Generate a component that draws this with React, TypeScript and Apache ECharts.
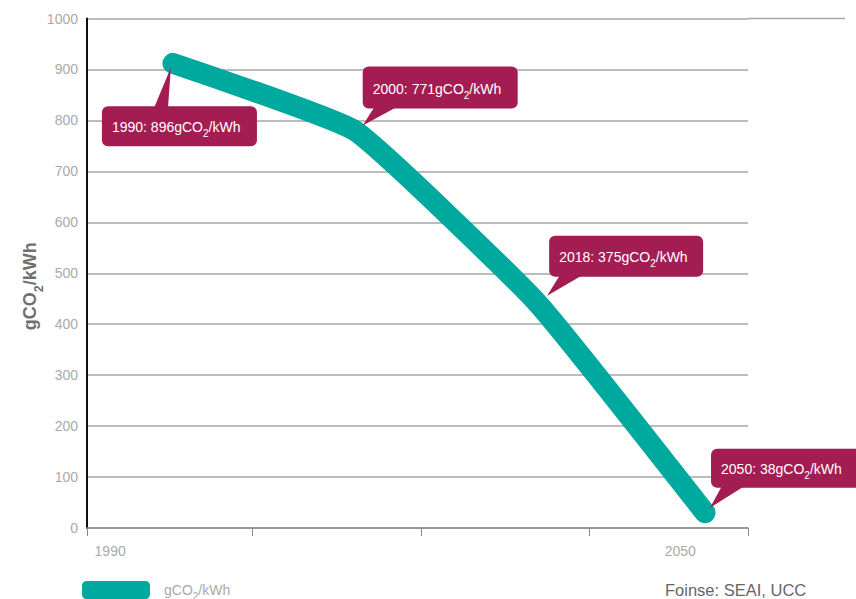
import React, { useEffect, useRef } from "react";
import * as echarts from "echarts";

// ---- data ----
const years = ["1990", "2000", "2018", "2050"];
// values as plotted by the line
const plottedIntensity = [912, 780, 440, 30];
// values quoted in the callouts
const calloutValues = [896, 771, 375, 38];
// horizontal position of each point along the (unlabelled) x scale, in tick units
const xPositions = [0.52, 1.62, 2.73, 3.74];
const xTickPositions = [0, 1, 2.02, 3.04, 4];
const xTickLabels = ["1990", "2050"];
const xTickLabelPositions = [0.14, 3.59];
const yTickLabels = ["0", "100", "200", "300", "400", "500", "600", "700", "800", "900", "1000"];
const seriesName = "gCO2/kWh";
const sourceText = "Foinse: SEAI, UCC";

// ---- layout / style ----
const FONT = "'Liberation Sans', Arial, Helvetica, sans-serif";
const TEAL = "#00a99d";
const MAGENTA = "#a31d52";
const calloutLayout = [
  { dx: -71, dy: 43, w: 155, h: 40, side: "top", b0: 52, b1: 66, tx: -2, ty: 4 },
  { dx: 8, dy: -64, w: 155, h: 42, side: "bottom", b0: 12, b1: 35, tx: 8, ty: -5 },
  { dx: 11, dy: -68, w: 154, h: 41, side: "bottom", b0: 11, b1: 34, tx: 9, ty: -8 },
  { dx: 6, dy: -64, w: 152, h: 39, side: "bottom", b0: 11, b1: 34, tx: 5, ty: -5 },
];

const unitRich = (size: number, color: string, bold = false) => {
  const sub = Math.round(size * 0.7 * 2) / 2;
  return {
    a: {
      fontSize: size,
      fontFamily: FONT,
      color,
      fill: color,
      fontWeight: bold ? "bold" : "normal",
      lineHeight: Math.round(size * 1.65),
    },
    s: {
      fontSize: sub,
      fontFamily: FONT,
      color,
      fill: color,
      fontWeight: bold ? "bold" : "normal",
      lineHeight: sub,
      verticalAlign: "bottom",
    },
  };
};

export default function App() {
  const ref = useRef<HTMLDivElement>(null);

  useEffect(() => {
    document.body.style.margin = "0";
    if (!ref.current) return;
    const chart = echarts.init(ref.current, null, { renderer: "svg" });

    const points = xPositions.map((x, i) => [x, plottedIntensity[i], i]);

    const option: any = {
      animation: false,
      textStyle: { fontFamily: FONT },
      grid: { left: 87, right: 108, top: 18.5, bottom: 71, outerBoundsMode: "none", containLabel: false },
      legend: {
        left: 82,
        top: 581,
        padding: 0,
        itemWidth: 68,
        itemHeight: 18,
        data: [{ name: seriesName, icon: "roundRect" }],
        formatter: () => "{a|gCO}{s|2}{a|/kWh}",
        textStyle: { color: "#aaa", fontSize: 14, padding: [0, 0, 0, 9], rich: unitRich(14, "#aaa") },
      },
      xAxis: {
        type: "value",
        min: 0,
        max: 4,
        interval: 1,
        axisLine: { show: true, lineStyle: { color: "#8c8c8c", width: 1.5 } },
        axisTick: { show: true, length: 8, customValues: xTickPositions, lineStyle: { color: "#8c8c8c", width: 1 } },
        splitLine: { show: false },
        axisLabel: {
          customValues: xTickLabelPositions,
          formatter: (v: number) => {
            let best = 0;
            xTickLabelPositions.forEach((p, i) => {
              if (Math.abs(p - v) < Math.abs(xTickLabelPositions[best] - v)) best = i;
            });
            return xTickLabels[best];
          },
          color: "#aaa",
          fontSize: 14,
          margin: 16,
        },
      },
      yAxis: {
        type: "value",
        min: 0,
        max: 1000,
        interval: 100,
        name: "{a|gCO}{s|2}{a|/kWh}",
        nameLocation: "middle",
        nameRotate: 90,
        nameGap: 42,
        nameMoveOverlap: false,
        nameTextStyle: { padding: [0, 26, 0, 0], rich: unitRich(18, "#707070", true) },
        axisLine: { show: true, lineStyle: { color: "#111", width: 2 } },
        axisTick: { show: false },
        splitLine: { show: true, lineStyle: { color: "#a6a6a6", width: 1.5 } },
        axisLabel: {
          color: "#aaa",
          fontSize: 14,
          margin: 9,
          formatter: (v: number) => yTickLabels[Math.round(v / 100)] ?? String(v),
        },
      },
      series: [
        {
          name: seriesName,
          type: "line",
          data: points.map((p) => [p[0], p[1]]),
          symbol: "none",
          smooth: 0.12,
          color: TEAL,
          lineStyle: { color: TEAL, width: 21, cap: "round", join: "round" },
          z: 2,
        },
        {
          name: "callouts",
          type: "custom",
          clip: false,
          z: 5,
          data: points,
          renderItem: (params: any, api: any) => {
            const i = params.dataIndex;
            const L = calloutLayout[i];
            const [px, py] = api.coord([api.value(0), api.value(1)]);
            const bx = px + L.dx;
            const by = py + L.dy;
            const baseY = L.side === "top" ? by + 2 : by + L.h - 2;
            const tip = [px + L.tx, py + L.ty];
            const rich = unitRich(14, "#fff");
            return {
              type: "group",
              children: [
                {
                  type: "polygon",
                  shape: { points: [[bx + L.b0, baseY], [bx + L.b1, baseY], tip] },
                  style: { fill: MAGENTA },
                },
                {
                  type: "rect",
                  shape: { x: bx, y: by, width: L.w, height: L.h, r: 6 },
                  style: { fill: MAGENTA },
                },
                {
                  type: "text",
                  x: bx + 10,
                  y: by + L.h / 2 + 1,
                  style: {
                    text: `{a|${years[i]}: ${calloutValues[i]}gCO}{s|2}{a|/kWh}`,
                    rich,
                    fill: "#fff",
                    font: `14px ${FONT}`,
                    align: "left",
                    verticalAlign: "middle",
                  },
                },
              ],
            };
          },
        },
      ],
    };

    chart.setOption(option);

    const topRight = chart.convertToPixel({ gridIndex: 0 } as any, [4, 1000]) as number[];
    chart.setOption({
      graphic: [
        {
          id: "topExt",
          type: "line",
          shape: { x1: topRight[0], y1: topRight[1], x2: topRight[0] + 97, y2: topRight[1] },
          style: { stroke: "#a6a6a6", lineWidth: 1.5 },
          z: 1,
        },
        {
          id: "source",
          type: "text",
          x: 665,
          y: 581,
          style: { text: sourceText, fill: "#666", font: `16.5px ${FONT}` },
        },
      ],
    });

    return () => chart.dispose();
  }, []);

  return <div ref={ref} style={{ width: 856, height: 599 }} />;
}
